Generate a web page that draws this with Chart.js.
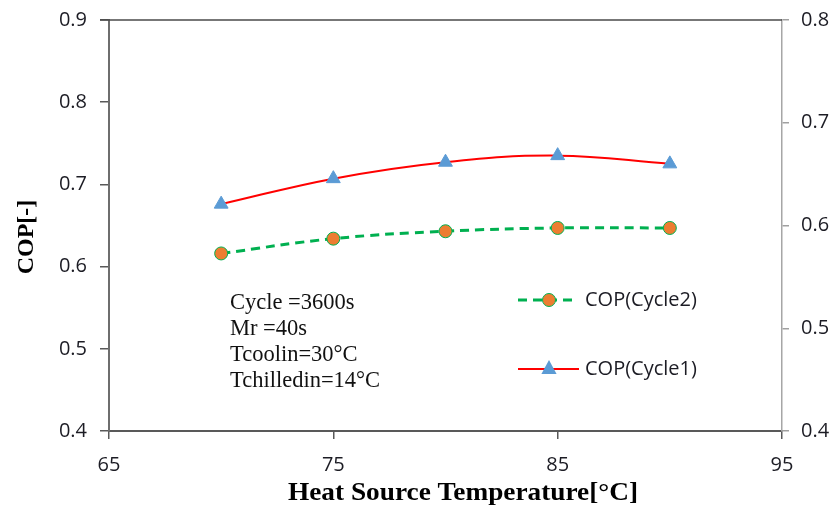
<!DOCTYPE html>
<html>
<head>
<meta charset="utf-8">
<script src="https://cdn.jsdelivr.net/npm/chart.js@4/dist/chart.umd.min.js"></script>
<style>
html,body{margin:0;padding:0;background:#fff;}
#wrap{width:835px;height:508px;}
</style>
</head>
<body>
<div id="wrap"><canvas id="c" width="835" height="508"></canvas></div>
<script>
// ---- data ----
const temperatures = [70, 75, 80, 85, 90];
const copCycle1 = [0.676, 0.707, 0.727, 0.735, 0.725];
const copCycle2 = [0.616, 0.634, 0.643, 0.647, 0.647];
const xTicks = [65, 75, 85, 95];
const leftTicks = [0.4, 0.5, 0.6, 0.7, 0.8, 0.9];
const rightTicks = [0.4, 0.5, 0.6, 0.7, 0.8];
const seriesNames = ['COP(Cycle1)', 'COP(Cycle2)'];
const notes = ['Cycle =3600s', 'Mr =40s', 'Tcoolin=30°C', 'Tchilledin=14°C'];
const xTitle = 'Heat Source Temperature[°C]';
const yTitle = 'COP[-]';

const tickFont = {family: "'Open Sans', 'Liberation Sans', sans-serif", size: 20};
const tickColor = '#1c1c24';

function pts(xs, ys){ return xs.map((x,i)=>({x:x, y:ys[i]})); }

function drawTriangle(ctx, x, y, r, color){
  ctx.save();
  ctx.fillStyle = color;
  ctx.beginPath();
  ctx.moveTo(x, y - r);
  ctx.lineTo(x + r*0.95, y + r*0.75);
  ctx.lineTo(x - r*0.95, y + r*0.75);
  ctx.closePath();
  ctx.fill();
  ctx.restore();
}
function drawCircle(ctx, x, y, r, fill, stroke){
  ctx.save();
  ctx.fillStyle = fill; ctx.strokeStyle = stroke; ctx.lineWidth = 1;
  ctx.beginPath(); ctx.arc(x, y, r, 0, Math.PI*2); ctx.fill(); ctx.stroke();
  ctx.restore();
}

const decor = {
  id: 'decor',
  afterDraw(chart){
    const ctx = chart.ctx, a = chart.chartArea;
    ctx.save();
    // top frame line
    ctx.strokeStyle = '#4a4a4a'; ctx.lineWidth = 1.5;
    ctx.beginPath(); ctx.moveTo(a.left - 9, a.top); ctx.lineTo(a.right, a.top); ctx.stroke();

    // notes
    ctx.fillStyle = '#111';
    ctx.font = "22.5px 'Liberation Serif', 'Times New Roman', serif";
    ctx.textAlign = 'left'; ctx.textBaseline = 'alphabetic';
    notes.forEach((t, i) => ctx.fillText(t, 230, 309 + i*26));

    // legend
    ctx.font = "20px 'Open Sans', 'Liberation Sans', sans-serif";
    ctx.textBaseline = 'middle';
    ctx.fillStyle = tickColor;
    // Cycle2
    ctx.strokeStyle = '#00B050'; ctx.lineWidth = 3; ctx.setLineDash([9,6]);
    ctx.beginPath(); ctx.moveTo(518, 300); ctx.lineTo(572, 300); ctx.stroke();
    ctx.setLineDash([]);
    drawCircle(ctx, 549, 300, 6.5, '#ED7D31', '#00B050');
    ctx.fillText(seriesNames[1], 585, 300);
    // Cycle1
    ctx.strokeStyle = '#FF0000'; ctx.lineWidth = 2;
    ctx.beginPath(); ctx.moveTo(518, 369); ctx.lineTo(579, 369); ctx.stroke();
    drawTriangle(ctx, 549, 368, 8, '#5B9BD5');
    ctx.fillStyle = tickColor;
    ctx.fillText(seriesNames[0], 585, 369);

    // axis titles
    ctx.fillStyle = '#000';
    ctx.font = "bold 25px 'Liberation Serif', 'Times New Roman', serif";
    ctx.textAlign = 'center'; ctx.textBaseline = 'alphabetic';
    const w = ctx.measureText(xTitle).width;
    ctx.save();
    ctx.translate(463, 500);
    ctx.scale(350 / w, 1);
    ctx.fillText(xTitle, 0, 0);
    ctx.restore();

    ctx.save();
    ctx.font = "bold 24px 'Liberation Serif', 'Times New Roman', serif";
    ctx.translate(33, 237);
    ctx.rotate(-Math.PI/2);
    ctx.fillText(yTitle, 0, 0);
    ctx.restore();
    ctx.restore();
  }
};

function fixV(width){
  return s => { s.width = width; s.paddingTop = 0; s.paddingBottom = 0; };
}

new Chart(document.getElementById('c'), {
  type: 'line',
  data: {
    datasets: [
      {
        label: seriesNames[1],
        data: pts(temperatures, copCycle2),
        borderColor: '#00B050', borderWidth: 3, borderDash: [9,6],
        tension: 0.4, fill: false,
        pointStyle: 'circle', pointRadius: 6.5,
        pointBackgroundColor: '#ED7D31', pointBorderColor: '#00B050', pointBorderWidth: 1,
        yAxisID: 'y'
      },
      {
        label: seriesNames[0],
        data: pts(temperatures, copCycle1),
        borderColor: '#FF0000', borderWidth: 2,
        tension: 0.4, fill: false,
        pointStyle: 'triangle', pointRadius: 8,
        pointBackgroundColor: '#5B9BD5', pointBorderColor: '#5B9BD5', pointBorderWidth: 1,
        yAxisID: 'y'
      }
    ]
  },
  options: {
    responsive: false, animation: false, devicePixelRatio: 1,
    layout: {padding: {top: 20, left: 0, right: 0, bottom: 0}},
    plugins: {legend: {display: false}, tooltip: {enabled: false}},
    scales: {
      x: {
        type: 'linear', min: 65, max: 95,
        afterBuildTicks: s => { s.ticks = xTicks.map(v => ({value: v})); },
        afterFit: s => { s.height = 77; s.paddingLeft = 0; s.paddingRight = 0; },
        grid: {drawOnChartArea: false, tickLength: 8, color: '#595959', lineWidth: 1.5},
        border: {color: '#595959', width: 2},
        ticks: {font: tickFont, color: tickColor, padding: 14}
      },
      y: {
        position: 'left', min: 0.4, max: 0.9,
        afterBuildTicks: s => { s.ticks = leftTicks.map(v => ({value: v})); },
        afterFit: fixV(109),
        grid: {drawOnChartArea: false, tickLength: 9, color: '#595959', lineWidth: 1.5},
        border: {color: '#6e6e6e', width: 2},
        ticks: {font: tickFont, color: tickColor, padding: 13, callback: v => v.toFixed(1)}
      },
      y2: {
        position: 'right', min: 0.4, max: 0.8,
        afterBuildTicks: s => { s.ticks = rightTicks.map(v => ({value: v})); },
        afterFit: fixV(53),
        grid: {drawOnChartArea: false, tickLength: 7, color: '#a0a0a0', lineWidth: 1.5},
        border: {color: '#a6a6a6', width: 1.5},
        ticks: {font: tickFont, color: tickColor, padding: 12, callback: v => v.toFixed(1)}
      }
    }
  },
  plugins: [decor]
});
</script>
</body>
</html>
